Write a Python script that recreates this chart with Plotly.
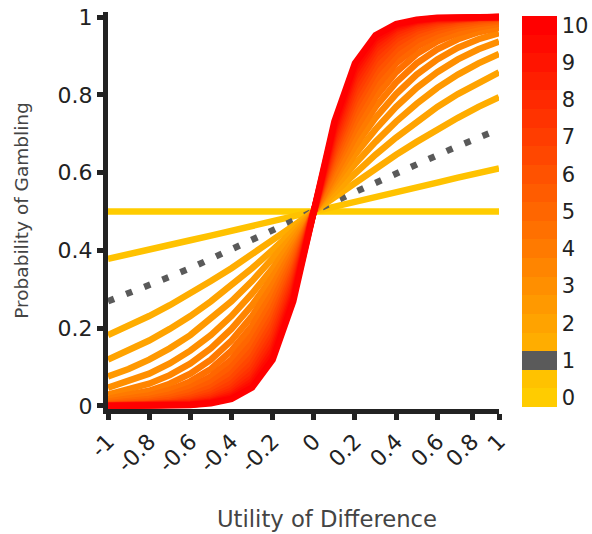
import plotly.graph_objects as go

# Utility difference grid (x axis)
utility_diff = [-1.0, -0.9, -0.8, -0.7, -0.6, -0.5, -0.4, -0.3, -0.2, -0.1, 0.0,
                0.1, 0.2, 0.3, 0.4, 0.5, 0.6, 0.7, 0.8, 0.9]

# Sensitivity (slope) of each choice curve
slopes = [0, 0.5, 1, 1.5, 2, 2.5, 3, 3.5, 4, 4.5, 5,
          5.5, 6, 6.5, 7, 7.5, 8, 8.5, 9, 9.5, 10]

# Probability of gambling for each slope
p_b00 = [0.5, 0.5, 0.5, 0.5, 0.5, 0.5, 0.5, 0.5, 0.5, 0.5, 0.5, 0.5, 0.5, 0.5, 0.5, 0.5, 0.5, 0.5, 0.5, 0.5]
p_b05 = [0.378, 0.389, 0.401, 0.413, 0.426, 0.438, 0.450, 0.463, 0.475, 0.488, 0.5, 0.512, 0.525, 0.537, 0.550, 0.562, 0.574, 0.587, 0.599, 0.611]
p_b10 = [0.269, 0.289, 0.310, 0.332, 0.354, 0.378, 0.401, 0.426, 0.450, 0.475, 0.5, 0.525, 0.550, 0.574, 0.599, 0.622, 0.646, 0.668, 0.690, 0.711]
p_b15 = [0.182, 0.206, 0.231, 0.259, 0.289, 0.321, 0.354, 0.389, 0.426, 0.463, 0.5, 0.537, 0.574, 0.611, 0.646, 0.679, 0.711, 0.741, 0.769, 0.794]
p_b20 = [0.119, 0.142, 0.168, 0.198, 0.231, 0.269, 0.310, 0.354, 0.401, 0.450, 0.5, 0.550, 0.599, 0.646, 0.690, 0.731, 0.769, 0.802, 0.832, 0.858]
p_b25 = [0.076, 0.095, 0.119, 0.148, 0.182, 0.223, 0.269, 0.321, 0.378, 0.438, 0.5, 0.562, 0.622, 0.679, 0.731, 0.777, 0.818, 0.852, 0.881, 0.905]
p_b30 = [0.047, 0.063, 0.083, 0.109, 0.142, 0.182, 0.231, 0.289, 0.354, 0.426, 0.5, 0.574, 0.646, 0.711, 0.769, 0.818, 0.858, 0.891, 0.917, 0.937]
p_b35 = [0.029, 0.041, 0.057, 0.079, 0.109, 0.148, 0.198, 0.259, 0.332, 0.413, 0.5, 0.587, 0.668, 0.741, 0.802, 0.852, 0.891, 0.921, 0.943, 0.959]
p_b40 = [0.018, 0.027, 0.039, 0.057, 0.083, 0.119, 0.168, 0.231, 0.310, 0.401, 0.5, 0.599, 0.690, 0.769, 0.832, 0.881, 0.917, 0.943, 0.961, 0.973]
p_b45 = [0.011, 0.017, 0.027, 0.041, 0.063, 0.095, 0.142, 0.206, 0.289, 0.389, 0.5, 0.611, 0.711, 0.794, 0.858, 0.905, 0.937, 0.959, 0.973, 0.983]
p_b50 = [0.007, 0.011, 0.018, 0.029, 0.047, 0.076, 0.119, 0.182, 0.269, 0.378, 0.5, 0.622, 0.731, 0.818, 0.881, 0.924, 0.953, 0.971, 0.982, 0.989]
p_b55 = [0.004, 0.007, 0.012, 0.021, 0.036, 0.060, 0.100, 0.161, 0.250, 0.366, 0.5, 0.634, 0.750, 0.839, 0.900, 0.940, 0.964, 0.979, 0.988, 0.993]
p_b60 = [0.002, 0.004, 0.008, 0.015, 0.027, 0.047, 0.083, 0.142, 0.231, 0.354, 0.5, 0.646, 0.769, 0.858, 0.917, 0.953, 0.973, 0.985, 0.992, 0.996]
p_b65 = [0.002, 0.003, 0.005, 0.010, 0.020, 0.037, 0.069, 0.125, 0.214, 0.343, 0.5, 0.657, 0.786, 0.875, 0.931, 0.963, 0.980, 0.990, 0.995, 0.997]
p_b70 = [0.001, 0.002, 0.004, 0.007, 0.015, 0.029, 0.057, 0.109, 0.198, 0.332, 0.5, 0.668, 0.802, 0.891, 0.943, 0.971, 0.985, 0.993, 0.996, 0.998]
p_b75 = [0.001, 0.001, 0.002, 0.005, 0.011, 0.023, 0.047, 0.095, 0.182, 0.321, 0.5, 0.679, 0.818, 0.905, 0.953, 0.977, 0.989, 0.995, 0.998, 0.999]
p_b80 = [0.000, 0.001, 0.002, 0.004, 0.008, 0.018, 0.039, 0.083, 0.168, 0.310, 0.5, 0.690, 0.832, 0.917, 0.961, 0.982, 0.992, 0.996, 0.998, 0.999]
p_b85 = [0.000, 0.000, 0.001, 0.003, 0.006, 0.014, 0.032, 0.072, 0.154, 0.299, 0.5, 0.701, 0.846, 0.928, 0.968, 0.986, 0.994, 0.997, 0.999, 1.000]
p_b90 = [0.000, 0.000, 0.001, 0.002, 0.004, 0.011, 0.027, 0.063, 0.142, 0.289, 0.5, 0.711, 0.858, 0.937, 0.973, 0.989, 0.996, 0.998, 0.999, 1.000]
p_b95 = [0.000, 0.000, 0.001, 0.001, 0.003, 0.009, 0.022, 0.055, 0.130, 0.279, 0.5, 0.721, 0.870, 0.945, 0.978, 0.991, 0.997, 0.999, 0.999, 1.000]
p_b100 = [0.000, 0.000, 0.000, 0.001, 0.002, 0.007, 0.018, 0.047, 0.119, 0.269, 0.5, 0.731, 0.881, 0.953, 0.982, 0.993, 0.998, 0.999, 1.000, 1.000]

curves = [p_b00, p_b05, p_b10, p_b15, p_b20, p_b25, p_b30, p_b35, p_b40, p_b45, p_b50,
          p_b55, p_b60, p_b65, p_b70, p_b75, p_b80, p_b85, p_b90, p_b95, p_b100]

x_ticks = [-1, -0.8, -0.6, -0.4, -0.2, 0, 0.2, 0.4, 0.6, 0.77, 0.9]
x_tick_text = ["-1", "-0.8", "-0.6", "-0.4", "-0.2", "0", "0.2", "0.4", "0.6", "0.8", "1"]
y_ticks = [0, 0.2, 0.4, 0.6, 0.8, 1]
y_tick_text = ["0", "0.2", "0.4", "0.6", "0.8", "1"]
bar_ticks = [0, 1, 2, 3, 4, 5, 6, 7, 8, 9, 10]

REFERENCE_SLOPE = 1
GREY = "#5a5a5a"
AXIS = "#222222"
TITLE = "#444444"
FONT = "DejaVu Sans"


def slope_color(b):
    """Yellow (slope 0) to red (slope 10)."""
    if b == REFERENCE_SLOPE:
        return GREY
    g = round(204 * (1 - b / 10))
    return f"rgb(255,{g},0)"


fig = go.Figure()

for b, probs in zip(slopes, curves):
    is_ref = b == REFERENCE_SLOPE
    fig.add_trace(go.Scatter(
        x=utility_diff, y=probs, mode="lines",
        line=dict(color=slope_color(b), width=6.5,
                  dash="6.5px,13px" if is_ref else "solid"),
        showlegend=False, hoverinfo="skip",
    ))

# Stepped colour bar, one band per slope
n = len(slopes)
half = (slopes[1] - slopes[0]) / 2
colorscale = []
for i, b in enumerate(slopes):
    c = slope_color(b)
    colorscale.append([i / n, c])
    colorscale.append([(i + 1) / n, c])

fig.add_trace(go.Scatter(
    x=[None], y=[None], mode="markers",
    marker=dict(
        color=[0], cmin=slopes[0] - half, cmax=slopes[-1] + half,
        colorscale=colorscale, showscale=True,
        colorbar=dict(
            x=1.059, xanchor="left", xpad=0,
            y=0.4975, yanchor="middle", len=0.985, lenmode="fraction", ypad=0,
            thickness=35, outlinewidth=0,
            tickvals=bar_ticks, ticks="",
            tickfont=dict(family=FONT, size=21, color=AXIS),
        ),
    ),
    showlegend=False, hoverinfo="skip",
))

axis_common = dict(
    showgrid=False, zeroline=False,
    showline=True, linecolor=AXIS, linewidth=5,
    ticks="outside", ticklen=6, tickwidth=5, tickcolor=AXIS,
    tickfont=dict(family=FONT, size=22, color=AXIS),
    automargin=False,
)

fig.update_layout(
    width=592, height=534,
    margin=dict(l=108, r=93, t=12, b=125, autoexpand=False),
    plot_bgcolor="white", paper_bgcolor="white",
    xaxis=dict(
        range=[-1, 0.9], tickvals=x_ticks, ticktext=x_tick_text, tickangle=-45,
        **axis_common,
    ),
    yaxis=dict(
        range=[-0.008, 1.013], tickvals=y_ticks, ticktext=y_tick_text,
        title=dict(text="Probability of Gambling", standoff=26,
                   font=dict(family=FONT, size=18.5, color=TITLE)),
        **axis_common,
    ),
    annotations=[dict(
        text="Utility of Difference", xref="paper", yref="paper",
        x=0.560, y=-0.277, xanchor="center", yanchor="middle",
        showarrow=False, font=dict(family=FONT, size=22.7, color=TITLE),
    )],
)

fig.write_html("out.html")
